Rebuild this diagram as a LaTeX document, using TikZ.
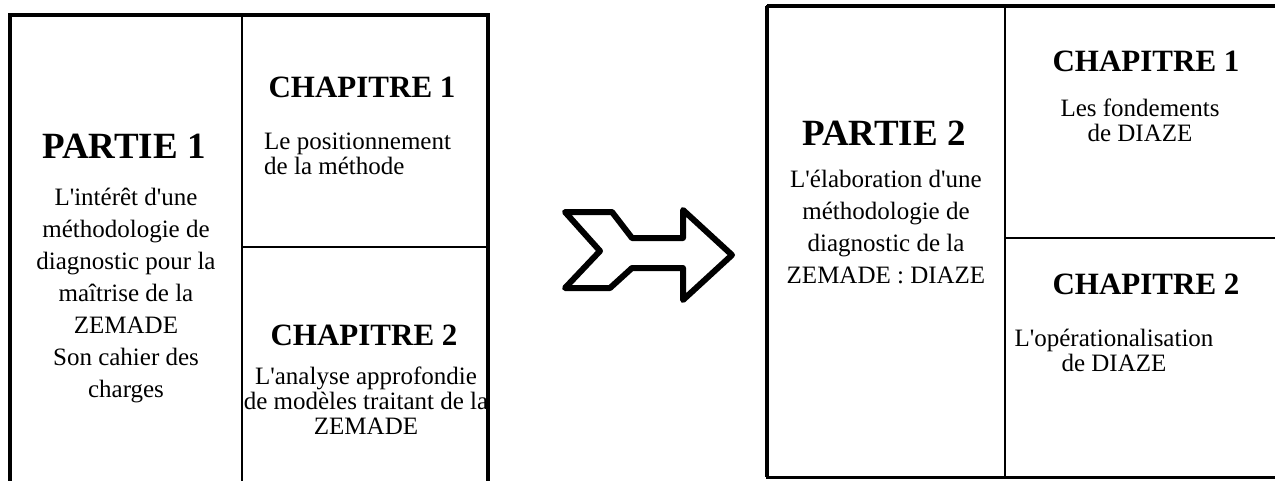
\documentclass[tikz,border=0pt]{standalone}
\usepackage{fontspec}
\setmainfont{Liberation Serif}
\newcommand{\myq}{\textquotesingle}
\begin{document}
\begin{tikzpicture}[x=1pt,y=-1pt,
  frame/.style={line width=4.5pt},
  rule/.style={line width=2pt},
  ptitle/.style={inner sep=0pt,font=\fontsize{37}{37}\selectfont\bfseries},
  ctitle/.style={inner sep=0pt,font=\fontsize{31}{31}\selectfont\bfseries},
  body/.style={inner sep=0pt,align=center,font=\fontsize{25}{32}\selectfont},
  tight/.style={inner sep=0pt,font=\fontsize{25}{25}\selectfont},
  arrowshape/.style={line width=6pt,line join=round}]
\useasboundingbox (0,0) rectangle (1275,480);
\clip (0,0) rectangle (1275,480);
% left box
\draw[frame] (10,15) rectangle (488,495);
\draw[rule] (242,15) -- (242,495);
\draw[rule] (242,247) -- (488,247);
\node[ptitle] (p1) at (124,146) {PARTIE 1};
\node[body,anchor=north] (p1t) at (126,188) {L\myq int\'er\^et d\myq une\\m\'ethodologie de\\diagnostic pour la\\ma\^itrise de la\\ZEMADE\\Son cahier des\\charges};
\node[ctitle] (c11) at (362,87) {CHAPITRE 1};
\node[tight,align=left,anchor=north west] (c11t) at (264,133) {Le positionnement\\de la m\'ethode};
\node[ctitle] (c12) at (364,335) {CHAPITRE 2};
\node[tight,align=center,anchor=north] (c12t) at (366,367) {L\myq analyse approfondie\\de mod\`eles traitant de la\\ZEMADE};
% arrow
\draw[arrowshape] (565,212) -- (612,212) -- (632,238) -- (683,238) -- (683,210) -- (732,255) -- (683,300) -- (683,268) -- (632,268) -- (610,288) -- (565,288) -- (600,251) -- cycle;
% right box
\draw[line width=3pt] (767,6) rectangle (1290,477);
\draw[frame] (767,6) -- (767,477);
\draw[line width=4pt] (767,6) -- (1290,6);
\draw[rule] (1005,6) -- (1005,477);
\draw[rule] (1005,238) -- (1290,238);
\node[ptitle] (p2) at (884,133) {PARTIE 2};
\node[body,align=center,anchor=north] (p2t) at (886,170) {L\myq \'elaboration d\myq une\\m\'ethodologie de\\diagnostic de la\\ZEMADE : DIAZE};
\node[ctitle] (c21) at (1146,61) {CHAPITRE 1};
\node[tight,align=center,anchor=north] (c21t) at (1140,99) {Les fondements\\de DIAZE};
\node[ctitle] (c22) at (1146,284) {CHAPITRE 2};
\node[tight,align=center,anchor=north] (c22t) at (1114,329) {L\myq op\'erationalisation\\de DIAZE};
\end{tikzpicture}
\end{document}
